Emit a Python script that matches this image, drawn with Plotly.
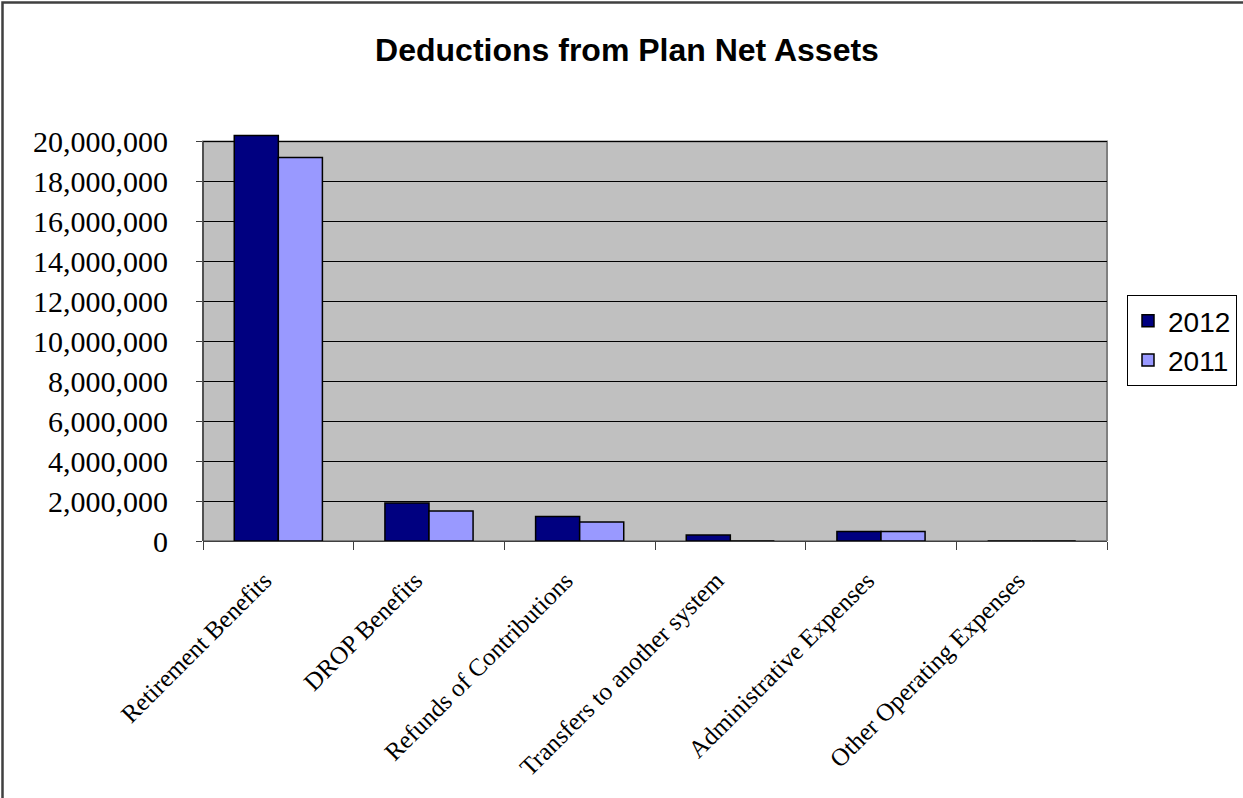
import plotly.graph_objects as go

categories = ["Retirement Benefits", "DROP Benefits", "Refunds of Contributions",
              "Transfers to another system", "Administrative Expenses", "Other Operating Expenses"]
values_2012 = [20300000, 1900000, 1230000, 300000, 480000, 0]
values_2011 = [19200000, 1500000, 950000, 0, 470000, 0]
y_ticks = [0, 2000000, 4000000, 6000000, 8000000, 10000000, 12000000, 14000000,
           16000000, 18000000, 20000000]
axis_max = 20000000

W, H = 1243, 798
L, R, T, B = 203, 136, 133, 257
pw, ph = W - L - R, H - T - B
y_top = axis_max * (H - B - T) / 399.5

fig = go.Figure()
fig.add_trace(go.Bar(name="2012", x=categories, y=values_2012,
                     marker=dict(color="#000080", line=dict(color="black", width=1.5))))
fig.add_trace(go.Bar(name="2011", x=categories, y=values_2011,
                     marker=dict(color="#9999FF", line=dict(color="black", width=1.5))))

fig.update_layout(
    width=W, height=H,
    margin=dict(l=L, r=R, t=T, b=B, autoexpand=False),
    paper_bgcolor="white", plot_bgcolor="rgba(0,0,0,0)",
    barmode="group", bargap=0.415, bargroupgap=0,
    title=dict(text="<b>Deductions from Plan Net Assets</b>", x=627 / W, xanchor="center",
               y=1 - 50 / H, yanchor="middle", xref="container", yref="container",
               font=dict(family="Arial, Liberation Sans", size=32, color="black")),
    showlegend=True,
    legend=dict(x=(1127 - L) / pw, xanchor="left", y=(H - B - 295) / ph, yanchor="top",
                bordercolor="black", borderwidth=1, bgcolor="white",
                font=dict(family="Arial, Liberation Sans", size=28, color="black"),
                itemwidth=30, tracegroupgap=0),
    xaxis=dict(type="category", showgrid=False, ticks="outside", tickson="boundaries",
               ticklen=8, tickcolor="#404040", showline=True, linecolor="#404040",
               linewidth=1, tickangle=-45, ticklabelstandoff=14, ticklabelshift=-14,
               tickfont=dict(family="Times New Roman, Liberation Serif", size=25, color="black")),
    yaxis=dict(range=[0, y_top], tickvals=y_ticks, tickformat=",",
               showgrid=True, gridcolor="black", gridwidth=1, zeroline=False,
               ticks="outside", ticklen=6, tickcolor="#404040", showline=False,
               ticklabelstandoff=22,
               tickfont=dict(family="Times New Roman, Liberation Serif", size=30, color="black")),
    shapes=[
        dict(type="rect", xref="paper", yref="y", x0=0, x1=1, y0=0, y1=axis_max,
             fillcolor="#C0C0C0", line=dict(color="#808080", width=2), layer="below"),
        dict(type="line", xref="paper", yref="y", x0=0, x1=0, y0=0, y1=axis_max,
             line=dict(color="#404040", width=1.5), layer="above"),
        dict(type="rect", xref="paper", yref="paper", x0=(2.5 - L) / pw, x1=1.5,
             y0=-1.5, y1=(H - B - 2.5) / ph, line=dict(color="#404040", width=2.5),
             layer="above"),
    ],
)

fig.write_html("out.html", config={"displayModeBar": False},
               post_script="document.body.style.margin='0';")
